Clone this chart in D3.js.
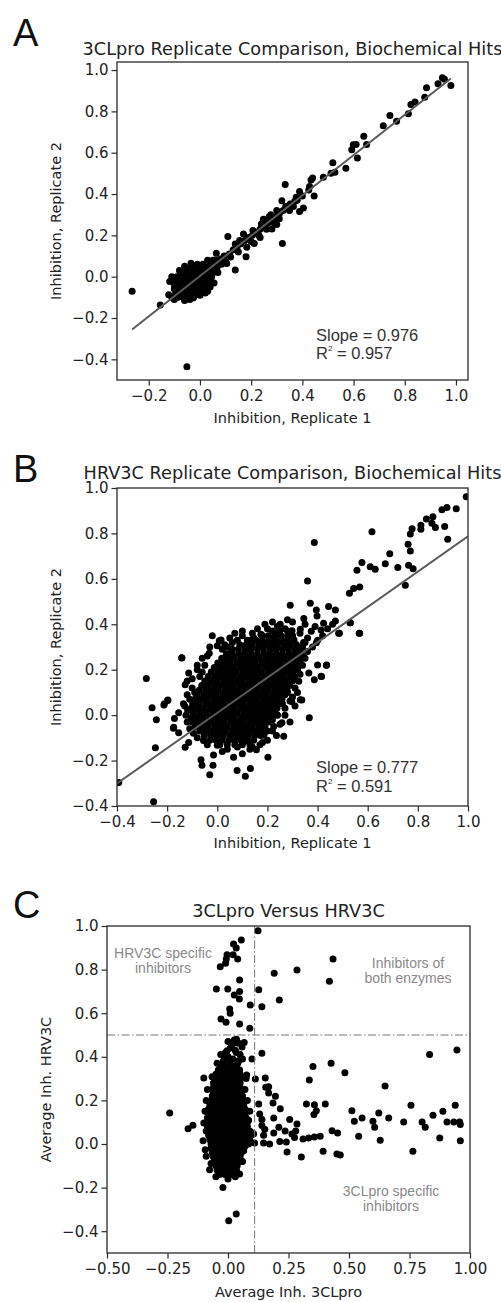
<!DOCTYPE html>
<html>
<head>
  <meta charset="utf-8">
  <title>Replicate comparison scatter plots</title>
  <style>
  body { margin: 0; background: #fff; }
  .dot { fill: #000; }
  .fit { stroke: #5a5a5a; stroke-width: 2; fill: none; }
  .frame { fill: none; stroke: #2a2a2a; stroke-width: 1.3; }
  .guide { stroke: #777; stroke-width: 1; stroke-dasharray: 8,2.5,1.5,2.5; fill: none; }
  .tick text { font-family: "DejaVu Sans", sans-serif; font-size: 15px; fill: #222; }
  .tick line { stroke: #2a2a2a; stroke-width: 1.2; }
  .domain { display: none; }
  .title, .label { font-family: "DejaVu Sans", sans-serif; fill: #222; }
  .letter { font-family: "Liberation Sans", Arial, sans-serif; font-size: 38px; fill: #111; }
  .stat { font-family: "Liberation Sans", Arial, sans-serif; font-size: 16.5px; fill: #333; }
  .note { font-family: "Liberation Sans", Arial, sans-serif; font-size: 14px; fill: #8a8a8a; }
  </style>
</head>
<body>
  <script src="https://d3js.org/d3.v7.min.js"></script>
  <script>
  // ---- data: panel A (3CLpro replicate 1 vs replicate 2) ----
  // dense core, one row per y value: [y, x, x, ...]
  var coreA = [
    [0.08, 0.03, 0.05],
    [0.06, -0.01, 0.012, 0.03, 0.05, 0.07],
    [0.04, -0.05, -0.03, -0.012, 0.01, 0.031, 0.05, 0.066],
    [0.02, -0.07, -0.05, -0.029, -0.01, 0.012, 0.03, 0.05],
    [0.0, -0.09, -0.07, -0.05, -0.031, -0.01, 0.011, 0.03, 0.046],
    [-0.02, -0.1, -0.081, -0.06, -0.04, -0.02, 0.0, 0.021, 0.04],
    [-0.04, -0.1, -0.08, -0.061, -0.04, -0.019, 0.0, 0.02, 0.036],
    [-0.06, -0.1, -0.079, -0.06, -0.04, -0.021, 0.0, 0.02],
    [-0.08, -0.095, -0.075, -0.055, -0.034, -0.015, 0.006],
    [-0.10, -0.085, -0.064, -0.045, -0.025]
  ];
  var scatterA = [
    [0.947,0.963],[0.98,0.925],[0.93,0.934],[0.955,0.955],[0.885,0.914],[0.878,0.869],[0.84,0.845],
    [0.824,0.833],[0.814,0.788],[0.742,0.78],[0.768,0.752],[0.716,0.73],[0.64,0.68],[0.651,0.64],
    [0.599,0.638],[0.61,0.64],[0.593,0.614],[0.615,0.575],[0.57,0.525],[0.519,0.552],[0.527,0.505],
    [0.512,0.5],[0.482,0.481],[0.44,0.478],[0.434,0.468],[0.428,0.436],[0.425,0.42],[0.446,0.391],
    [0.389,0.412],[0.376,0.384],[0.333,0.446],[0.32,0.368],[0.352,0.352],[0.365,0.34],[0.404,0.333],
    [0.389,0.316],[0.3,0.32],[0.277,0.3],[0.307,0.297],[0.248,0.278],[0.335,0.34],
    [-0.265,-0.071],[-0.051,-0.436],[-0.155,-0.137],[-0.118,-0.023],[-0.122,-0.087],[-0.027,-0.103],
    [0.021,-0.079],[0.138,0.032],[0.18,0.097],[0.105,0.064],[0.064,0.113],[0.109,0.194],[0.322,0.161],
    [0.3,0.252],[0.281,0.231],[0.248,0.263],[0.212,0.161],[0.235,0.19],[0.17,0.207],[0.138,0.158],
    [0.207,0.223],[0.183,0.142],
    [0.08,0.085],[0.095,0.1],[0.115,0.11],[0.13,0.13],[0.145,0.14],[0.16,0.16],[0.175,0.175],
    [0.19,0.19],[0.205,0.2],[0.22,0.215],[0.235,0.23],[0.25,0.245],[0.265,0.26],[0.28,0.275],
    [0.295,0.29],[0.31,0.305],[0.325,0.32],[0.34,0.335],[0.355,0.35],[0.37,0.365],[0.12,0.095],
    [0.1,0.075],[0.15,0.12],[0.07,0.055],[0.085,0.06],[0.06,0.08],[0.04,0.07],[0.26,0.23],[0.23,0.2],
    [0.2,0.17],[0.155,0.175],[0.27,0.29],[0.29,0.26],[0.31,0.28],[0.24,0.255],[0.35,0.32],[0.38,0.37],
    [0.4,0.39],
    [-0.11,-0.1],[-0.1,-0.11],[-0.11,0.0],[-0.08,0.03],[-0.06,0.05],[-0.035,0.065],[0.065,0.06],
    [0.055,-0.03],[0.03,-0.07],[0.0,-0.09],[-0.04,-0.11],[-0.06,-0.115],[0.07,0.02],[0.04,-0.05]
  ];
  var fitA = { slope: 0.976, intercept: 0.003, from: -0.265, to: 0.98 };
  var statsA = { slope: "0.976", r2: "0.957" };

  // ---- data: panel B (HRV3C replicate 1 vs replicate 2) ----
  var coreB = [
    [-0.13, 0.01, 0.04, 0.07, 0.1, 0.13],
    [-0.11, -0.03, -0.005, 0.02, 0.046, 0.07, 0.094, 0.12, 0.145],
    [-0.09, -0.052, -0.026, 0.0, 0.024, 0.05, 0.076, 0.1, 0.124, 0.15, 0.172],
    [-0.07, -0.07, -0.044, -0.018, 0.006, 0.032, 0.058, 0.082, 0.106, 0.13, 0.156, 0.18],
    [-0.05, -0.088, -0.062, -0.036, -0.01, 0.016, 0.04, 0.066, 0.09, 0.116, 0.14, 0.166, 0.19],
    [-0.03, -0.098, -0.072, -0.046, -0.022, 0.004, 0.028, 0.054, 0.08, 0.104, 0.13, 0.154, 0.178, 0.204],
    [-0.01, -0.104, -0.08, -0.056, -0.03, -0.006, 0.018, 0.044, 0.068, 0.094, 0.118, 0.142, 0.168, 0.192, 0.216],
    [0.01, -0.096, -0.07, -0.044, -0.018, 0.006, 0.03, 0.056, 0.08, 0.106, 0.13, 0.154, 0.18, 0.204, 0.226],
    [0.03, -0.104, -0.08, -0.056, -0.03, -0.006, 0.018, 0.044, 0.068, 0.094, 0.118, 0.142, 0.168, 0.192, 0.216, 0.238],
    [0.05, -0.098, -0.072, -0.046, -0.022, 0.004, 0.028, 0.054, 0.08, 0.104, 0.13, 0.154, 0.178, 0.204, 0.228, 0.25],
    [0.07, -0.09, -0.064, -0.04, -0.014, 0.01, 0.036, 0.06, 0.086, 0.11, 0.136, 0.16, 0.186, 0.21, 0.234, 0.258],
    [0.09, -0.08, -0.054, -0.028, -0.004, 0.022, 0.046, 0.072, 0.096, 0.122, 0.146, 0.172, 0.196, 0.222, 0.246, 0.27],
    [0.11, -0.072, -0.046, -0.02, 0.004, 0.03, 0.054, 0.08, 0.104, 0.13, 0.154, 0.18, 0.204, 0.23, 0.254, 0.278],
    [0.13, -0.062, -0.036, -0.01, 0.014, 0.04, 0.064, 0.09, 0.114, 0.14, 0.164, 0.19, 0.214, 0.24, 0.264, 0.288],
    [0.15, -0.05, -0.024, 0.0, 0.026, 0.05, 0.076, 0.1, 0.126, 0.15, 0.176, 0.2, 0.226, 0.25, 0.274, 0.296],
    [0.17, -0.036, -0.01, 0.014, 0.04, 0.064, 0.09, 0.114, 0.14, 0.164, 0.19, 0.214, 0.24, 0.264, 0.29, 0.31],
    [0.19, -0.024, 0.002, 0.026, 0.052, 0.076, 0.102, 0.126, 0.152, 0.176, 0.202, 0.226, 0.252, 0.276, 0.3],
    [0.21, -0.012, 0.014, 0.04, 0.064, 0.09, 0.114, 0.14, 0.164, 0.19, 0.214, 0.24, 0.264, 0.29, 0.312],
    [0.23, 0.002, 0.028, 0.052, 0.078, 0.102, 0.128, 0.152, 0.178, 0.202, 0.228, 0.252, 0.278, 0.3, 0.322],
    [0.25, 0.018, 0.044, 0.068, 0.094, 0.118, 0.144, 0.168, 0.194, 0.218, 0.244, 0.268, 0.294, 0.316],
    [0.27, 0.036, 0.06, 0.086, 0.11, 0.136, 0.16, 0.186, 0.21, 0.236, 0.26, 0.286, 0.31, 0.33],
    [0.29, 0.06, 0.084, 0.11, 0.134, 0.16, 0.184, 0.21, 0.234, 0.26, 0.284, 0.31, 0.332],
    [0.31, 0.09, 0.116, 0.14, 0.166, 0.19, 0.216, 0.24, 0.266, 0.29, 0.316],
    [0.33, 0.13, 0.156, 0.18, 0.206, 0.23, 0.256, 0.28, 0.306],
    [0.35, 0.18, 0.204, 0.23, 0.254, 0.28, 0.3],
    [0.37, 0.22, 0.25, 0.28]
  ];
  var scatterB = [
    [0.993,0.962],[0.953,0.909],[0.916,0.914],[0.896,0.904],[0.86,0.873],[0.834,0.863],[0.812,0.836],
    [0.812,0.818],[0.777,0.821],[0.77,0.797],[0.856,0.845],[0.87,0.826],[0.907,0.83],[0.919,0.774],
    [0.617,0.807],[0.387,0.76],[0.761,0.752],[0.77,0.723],[0.688,0.711],[0.763,0.66],[0.781,0.645],
    [0.75,0.572],[0.67,0.667],[0.72,0.65],[0.61,0.653],[0.63,0.642],[0.577,0.672],[0.557,0.638],
    [0.568,0.564],[0.544,0.557],[0.527,0.537],[0.36,0.591],[0.291,0.484],[0.371,0.493],[0.395,0.463],
    [0.444,0.478],[0.471,0.463],[0.398,0.437],[0.345,0.425],[0.471,0.415],[0.531,0.407],[0.484,0.36],
    [0.568,0.36],[0.424,0.405],[0.39,0.39],[0.414,0.375],[0.375,0.369],[0.331,0.378],[0.298,0.371],
    [0.251,0.4],[0.242,0.363],[0.174,0.356],[0.145,0.341],[0.109,0.305],[0.015,0.331],[0.0,0.305],
    [0.211,0.334],[0.264,0.32],[0.304,0.334],[0.344,0.32],[0.395,0.319],
    [-0.142,0.253],[-0.128,0.134],[-0.114,0.185],[-0.08,0.2],[-0.12,0.09],[-0.135,0.05],[-0.095,-0.08],
    [-0.055,-0.112],[-0.032,0.273],[0.008,0.328],[0.057,0.28],[0.04,0.3],[-0.05,0.22],[-0.07,0.17],
    [-0.1,0.12],[-0.11,0.07],[-0.118,0.02],[-0.12,-0.03],[-0.11,-0.06],
    [-0.125,0.0],[-0.13,0.04],[-0.1,0.16],[-0.08,0.22],[-0.06,0.25],[-0.03,0.3],[0.02,0.29],
    [0.05,0.34],[0.08,0.33],[0.1,0.37],[0.14,0.36],[-0.09,0.1],[-0.12,0.15],[-0.06,0.19],
    [-0.04,0.26],[0.03,0.31],[-0.02,0.35],[0.07,0.36],
    [0.26,0.05],[0.28,0.1],[0.3,0.15],[0.32,0.2],[0.34,0.26],[0.25,-0.04],[0.22,-0.07],
    [0.17,-0.13],[0.14,-0.14],[0.27,0.0],[0.3,0.08],[0.31,0.12],[0.33,0.24],[0.35,0.32],
    [0.29,-0.03],[0.2,-0.11],[0.08,-0.14],[-0.04,-0.13],[-0.08,-0.1],
    [-0.393,-0.297],[-0.254,-0.381],[-0.283,0.161],[-0.26,0.032],[-0.243,-0.02],[-0.247,-0.144],
    [-0.198,0.064],[-0.211,0.05],[-0.141,0.252],[-0.171,-0.015],[-0.174,-0.053],[-0.154,-0.078],
    [-0.154,0.01],[-0.128,-0.141],[-0.114,-0.12],[-0.213,0.045],[-0.197,0.067],[-0.175,-0.058],
    [-0.065,-0.196],[-0.061,-0.221],[-0.017,-0.221],[-0.03,-0.262],[0.079,-0.244],[0.112,-0.269],
    [0.132,-0.235],[0.065,-0.185],[0.202,-0.185],[0.156,-0.152],[0.18,-0.12],[0.265,-0.093],
    [0.236,-0.09],[0.258,-0.034],[0.367,-0.012],[0.225,-0.05],[0.186,-0.088],[0.106,-0.116],
    [0.04,-0.15],[0.0,-0.133],[-0.015,-0.175],[0.1,-0.17],[0.13,-0.15],[0.02,-0.16],[0.2,-0.07],
    [0.22,-0.02],[0.24,0.0],
    [0.435,0.22],[0.414,0.171],[0.387,0.156],[0.365,0.186],[0.331,0.068],[0.29,0.062],[0.325,0.149],
    [0.34,0.22],[0.238,0.002],[0.4,0.221],[0.436,0.221],[0.416,0.17],[0.337,0.067],[0.297,0.06],
    [0.566,0.36],[0.487,0.36],[0.529,0.407],[0.32,0.1],[0.31,0.04],[0.27,0.03],[0.33,0.18],[0.35,0.25],
    [0.36,0.28],[0.38,0.3],[0.34,0.3],[0.4,0.33],[0.42,0.35],[0.3,0.35],[0.27,0.38],[0.24,0.39],
    [0.2,0.38],[0.33,0.36],[0.36,0.34],[0.44,0.38],[0.46,0.4],[0.35,0.4],[0.3,0.41],[0.22,0.41],
    [0.19,0.4],[0.1,0.35],[0.12,0.33],[0.06,0.32],[0.16,0.38],[0.28,0.42]
  ];
  var fitB = { slope: 0.777, intercept: 0.01, from: -0.4, to: 1.0 };
  var statsB = { slope: "0.777", r2: "0.591" };

  // ---- data: panel C (average 3CLpro vs average HRV3C) ----
  var coreC = [
    [0.36, -0.03, -0.008, 0.014, 0.036],
    [0.34, -0.04, -0.018, 0.004, 0.026, 0.048],
    [0.32, -0.05, -0.028, -0.006, 0.016, 0.038, 0.05],
    [0.30, -0.052, -0.03, -0.008, 0.014, 0.036, 0.05],
    [0.28, -0.055, -0.033, -0.011, 0.011, 0.033, 0.05],
    [0.26, -0.06, -0.038, -0.016, 0.006, 0.028, 0.05],
    [0.24, -0.06, -0.04, -0.018, 0.004, 0.026, 0.048, 0.056],
    [0.22, -0.065, -0.043, -0.021, 0.001, 0.023, 0.045, 0.06],
    [0.20, -0.07, -0.048, -0.026, -0.004, 0.018, 0.04, 0.06],
    [0.18, -0.075, -0.053, -0.031, -0.009, 0.013, 0.035, 0.057, 0.065],
    [0.16, -0.08, -0.058, -0.036, -0.014, 0.008, 0.03, 0.052, 0.07],
    [0.14, -0.08, -0.058, -0.036, -0.014, 0.008, 0.03, 0.052, 0.07],
    [0.12, -0.085, -0.063, -0.041, -0.019, 0.003, 0.025, 0.047, 0.069, 0.075],
    [0.10, -0.085, -0.063, -0.041, -0.019, 0.003, 0.025, 0.047, 0.069, 0.08],
    [0.08, -0.085, -0.063, -0.041, -0.019, 0.003, 0.025, 0.047, 0.069, 0.08],
    [0.06, -0.08, -0.058, -0.036, -0.014, 0.008, 0.03, 0.052, 0.074, 0.09],
    [0.04, -0.08, -0.058, -0.036, -0.014, 0.008, 0.03, 0.052, 0.074, 0.096],
    [0.02, -0.075, -0.053, -0.031, -0.009, 0.013, 0.035, 0.057, 0.079, 0.09],
    [0.0, -0.07, -0.048, -0.026, -0.004, 0.018, 0.04, 0.062, 0.07],
    [-0.02, -0.07, -0.048, -0.026, -0.004, 0.018, 0.04, 0.06],
    [-0.04, -0.065, -0.043, -0.021, 0.001, 0.023, 0.045, 0.055],
    [-0.06, -0.06, -0.038, -0.016, 0.006, 0.028, 0.05],
    [-0.08, -0.055, -0.033, -0.011, 0.011, 0.033, 0.045],
    [-0.10, -0.05, -0.028, -0.006, 0.016, 0.038],
    [-0.12, -0.045, -0.023, -0.001, 0.021, 0.035],
    [-0.14, -0.035, -0.013, 0.009, 0.025]
  ];
  var scatterC = [
    [0.124,0.978],[0.055,0.936],[0.023,0.917],[0.034,0.899],[-0.004,0.868],[0.021,0.868],[-0.007,0.849],
    [0.04,0.849],[-0.01,0.829],[-0.032,0.813],[0.048,0.752],[-0.048,0.711],[-0.001,0.711],[0.048,0.699],
    [0.026,0.683],[0.047,0.665],[0.127,0.708],[0.092,0.638],[0.14,0.63],[0.212,0.661],[0.191,0.783],
    [0.285,0.798],[0.434,0.849],[0.419,0.746],[0.007,0.619],[0.009,0.6],[-0.029,0.573],[-0.008,0.558],
    [0.048,0.55],[0.09,0.531],[0.026,0.477],[0.044,0.462],[0.067,0.466],[0.058,0.445],[0.034,0.42],
    [-0.004,0.428],[-0.015,0.39],[0.01,0.382],[0.044,0.382],[0.099,0.39],[0.14,0.416],
    [-0.02,0.38],[0.0,0.4],[0.02,0.39],[-0.03,0.41],[0.03,0.43],[0.01,0.44],[-0.01,0.42],[0.05,0.41],
    [0.04,0.37],[-0.045,0.37],[0.06,0.39],[0.02,0.46],[0.035,0.48],[0.0,0.47],
    [-0.1,0.303],[-0.066,0.309],[-0.06,0.28],[-0.241,0.142],[-0.165,0.07],[-0.145,0.086],[-0.1,0.096],
    [-0.103,0.015],[-0.094,-0.026],[-0.09,-0.056],[-0.076,-0.118],[-0.021,-0.199],[0.003,-0.352],
    [0.034,-0.321],[0.048,-0.138],[0.065,-0.031],[0.07,-0.01],[-0.09,0.2],[-0.095,0.15],[-0.09,0.06],
    [-0.085,0.25],[0.07,0.25],[0.075,0.3],[0.08,0.2],[0.09,0.15],[0.1,0.05],[0.085,0.0],[0.06,-0.08],
    [-0.07,-0.09],[-0.05,-0.15],[0.0,-0.16],[0.03,-0.15],
    [0.085,0.109],[0.106,0.046],[0.11,0.005],[0.127,0.183],[0.131,0.138],[0.14,0.112],[0.14,0.085],
    [0.147,0.005],[0.172,0.0],[0.152,0.068],[0.147,0.04],[0.186,0.188],[0.196,0.219],[0.168,0.234],
    [0.156,0.26],[0.189,0.119],[0.189,0.05],[0.21,0.077],[0.216,0.162],[0.214,0.012],[0.241,0.009],
    [0.244,-0.037],[0.236,0.06],[0.255,0.112],[0.264,0.046],[0.285,0.092],[0.28,0.06],[0.275,0.03],
    [0.303,-0.06],[0.31,0.023],[0.324,0.183],[0.357,0.18],[0.402,0.183],[0.365,0.153],[0.355,0.135],
    [0.333,0.028],[0.357,0.032],[0.381,0.036],[0.393,-0.033],[0.43,0.061],[0.453,0.05],[0.45,-0.046],
    [0.464,-0.05],[0.512,0.153],[0.522,0.104],[0.554,0.119],[0.54,0.036],[0.599,0.104],[0.606,0.077],
    [0.623,0.142],[0.629,0.017],[0.664,0.119],[0.726,0.101],[0.764,-0.033],[0.756,0.178],[0.802,0.101],
    [0.815,0.077],[0.847,0.132],[0.875,0.028],[0.888,0.15],[0.905,0.101],[0.939,0.178],[0.933,0.101],
    [0.957,0.101],[0.96,0.015],[0.96,0.09],[0.483,0.327],[0.336,0.294],[0.649,0.266],[0.077,0.317],
    [0.351,0.355],[0.426,0.37],[0.833,0.41],[0.946,0.431],[0.113,0.298],[0.154,0.303],[0.168,0.263]
  ];
  var cutX = 0.11, cutY = 0.5;

  var ticksAX = [-0.2, 0.0, 0.2, 0.4, 0.6, 0.8, 1.0];
  var ticksAY = [-0.4, -0.2, 0.0, 0.2, 0.4, 0.6, 0.8, 1.0];
  var ticksB = [-0.4, -0.2, 0.0, 0.2, 0.4, 0.6, 0.8, 1.0];
  var ticksCX = [-0.5, -0.25, 0.0, 0.25, 0.5, 0.75, 1.0];
  var ticksCY = [-0.4, -0.2, 0.0, 0.2, 0.4, 0.6, 0.8, 1.0];

  // rows [y, x...] -> [x, y] points
  function unrow(rows) {
    var out = [];
    rows.forEach(function(r) {
      r.slice(1).forEach(function(x) { out.push([x, r[0]]); });
    });
    return out;
  }

  var svg = d3.select("body").append("svg")
    .attr("width", 501)
    .attr("height", 1302);

  function panel(p) {
    var x = d3.scaleLinear().domain(p.xDomain).range([p.left, p.right]);
    var y = d3.scaleLinear().domain(p.yDomain).range([p.bottom, p.top]);
    var g = svg.append("g");

    g.append("clipPath").attr("id", p.id)
      .append("rect")
      .attr("x", p.left).attr("y", p.top)
      .attr("width", p.right - p.left).attr("height", p.bottom - p.top);

    var plot = g.append("g").attr("clip-path", "url(#" + p.id + ")");
    plot.selectAll(".dot")
      .data(p.points)
      .enter()
      .append("circle")
      .attr("class", "dot")
      .attr("cx", function(d) { return x(d[0]); })
      .attr("cy", function(d) { return y(d[1]); })
      .attr("r", 3.5);

    if (p.fit) {
      var f = p.fit;
      plot.append("line")
        .attr("class", "fit")
        .attr("x1", x(f.from)).attr("y1", y(f.slope * f.from + f.intercept))
        .attr("x2", x(f.to)).attr("y2", y(f.slope * f.to + f.intercept));
    }
    if (p.guides) {
      plot.append("line").attr("class", "guide")
        .attr("x1", x(p.guides[0])).attr("x2", x(p.guides[0]))
        .attr("y1", p.top).attr("y2", p.bottom);
      plot.append("line").attr("class", "guide")
        .attr("x1", p.left).attr("x2", p.right)
        .attr("y1", y(p.guides[1])).attr("y2", y(p.guides[1]));
    }

    g.append("g")
      .attr("transform", "translate(0," + p.bottom + ")")
      .call(d3.axisBottom(x).tickValues(p.xTicks).tickFormat(d3.format(p.xFmt))
        .tickSizeInner(5.5).tickSizeOuter(0).tickPadding(5))
      .attr("font-size", null).attr("font-family", null);

    g.append("g")
      .attr("transform", "translate(" + p.left + ",0)")
      .call(d3.axisLeft(y).tickValues(p.yTicks).tickFormat(d3.format(".1f"))
        .tickSizeInner(5.5).tickSizeOuter(0).tickPadding(3))
      .attr("font-size", null).attr("font-family", null);

    g.append("rect")
      .attr("class", "frame")
      .attr("x", p.left).attr("y", p.top)
      .attr("width", p.right - p.left).attr("height", p.bottom - p.top);

    var cx = (p.left + p.right) / 2;
    g.append("text").attr("class", "title")
      .attr("x", cx).attr("y", p.titleY)
      .attr("text-anchor", "middle").attr("font-size", "17.7px")
      .text(p.title);
    g.append("text").attr("class", "label")
      .attr("x", cx).attr("y", p.xLabelY)
      .attr("text-anchor", "middle").attr("font-size", "14.5px")
      .text(p.xLabel);
    g.append("text").attr("class", "label")
      .attr("transform", "translate(" + p.yLabelX + "," + ((p.top + p.bottom) / 2) + ") rotate(-90)")
      .attr("text-anchor", "middle").attr("font-size", "14.5px")
      .text(p.yLabel);
    g.append("text").attr("class", "letter")
      .attr("x", 13).attr("y", p.letterY)
      .text(p.letter);

    if (p.stats) {
      g.append("text").attr("class", "stat")
        .attr("x", 316).attr("y", p.statY)
        .text("Slope = " + p.stats.slope);
      var r = g.append("text").attr("class", "stat")
        .attr("x", 316).attr("y", p.statY + 18.5);
      r.append("tspan").text("R");
      r.append("tspan").attr("font-size", "8px").attr("dy", -8).text("2");
      r.append("tspan").attr("dy", 8).text(" = " + p.stats.r2);
    }
    return { x: x, y: y, g: g };
  }

  panel({
    id: "clipA", letter: "A", letterY: 46,
    left: 117, right: 468, top: 62, bottom: 380,
    xDomain: [-0.324, 1.047], yDomain: [-0.5, 1.039],
    xTicks: ticksAX, yTicks: ticksAY, xFmt: ".1f",
    points: unrow(coreA).concat(scatterA), fit: fitA, stats: statsA, statY: 340.5,
    title: "3CLpro Replicate Comparison, Biochemical Hits", titleY: 55,
    xLabel: "Inhibition, Replicate 1", xLabelY: 423,
    yLabel: "Inhibition, Replicate 2", yLabelX: 60.5
  });

  panel({
    id: "clipB", letter: "B", letterY: 482,
    left: 117, right: 468, top: 488, bottom: 806,
    xDomain: [-0.4, 1.0], yDomain: [-0.4, 1.0],
    xTicks: ticksB, yTicks: ticksB, xFmt: ".1f",
    points: unrow(coreB).concat(scatterB), fit: fitB, stats: statsB, statY: 773,
    title: "HRV3C Replicate Comparison, Biochemical Hits", titleY: 479,
    xLabel: "Inhibition, Replicate 1", xLabelY: 848,
    yLabel: "Inhibition, Replicate 2", yLabelX: 60.5
  });

  var pc = panel({
    id: "clipC", letter: "C", letterY: 918,
    left: 107, right: 470, top: 926, bottom: 1253,
    xDomain: [-0.5, 1.0], yDomain: [-0.5, 1.0],
    xTicks: ticksCX, yTicks: ticksCY, xFmt: ".2f",
    points: unrow(coreC).concat(scatterC), guides: [cutX, cutY],
    title: "3CLpro Versus HRV3C", titleY: 917,
    xLabel: "Average Inh. 3CLpro", xLabelY: 1297,
    yLabel: "Average Inh. HRV3C", yLabelX: 50.5
  });

  var notes = [
    { lines: ["HRV3C specific", "inhibitors"], x: 163, y: 957.5 },
    { lines: ["Inhibitors of", "both enzymes"], x: 408, y: 967.5 },
    { lines: ["3CLpro specific", "inhibitors"], x: 391, y: 1195.5 }
  ];
  notes.forEach(function(n) {
    var t = pc.g.append("text").attr("class", "note").attr("text-anchor", "middle");
    n.lines.forEach(function(s, i) {
      t.append("tspan").attr("x", n.x).attr("y", n.y + i * 15.3).text(s);
    });
  });
  </script>
</body>
</html>
